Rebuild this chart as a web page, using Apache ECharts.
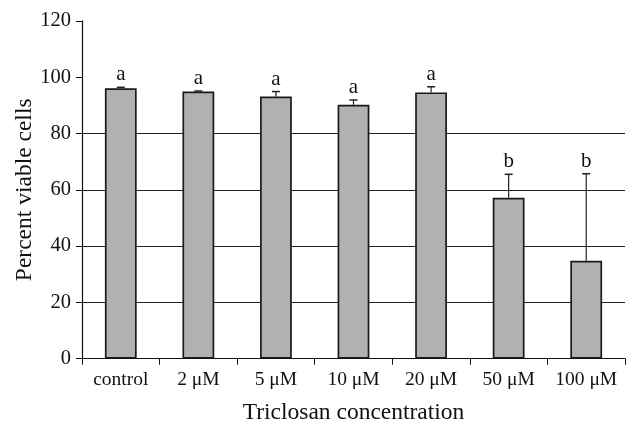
<!DOCTYPE html>
<html><head><meta charset="utf-8">
<script src="https://cdn.jsdelivr.net/npm/echarts@6/dist/echarts.min.js"></script>
<style>html,body{margin:0;padding:0;background:#fff}#c{width:627px;height:422px}</style>
</head><body><div id="c"></div>
<script>
const categories = ['control', '2 μM', '5 μM', '10 μM', '20 μM', '50 μM', '100 μM'];
const means = [96.1, 94.9, 93.1, 90.2, 94.6, 57.2, 34.8];
const errTops = [96.4, 95.1, 94.9, 91.9, 96.6, 65.5, 65.7];
const groups = ['a', 'a', 'a', 'a', 'a', 'b', 'b'];
const yTicks = [0, 20, 40, 60, 80, 100, 120];

const FONT = '"Liberation Serif", "DejaVu Serif", serif';
const chart = echarts.init(document.getElementById('c'), null, {renderer: 'canvas'});
chart.setOption({
  animation: false,
  backgroundColor: '#fff',
  grid: {left: 82, right: 2, top: 20.9, bottom: 63.3, containLabel: false, outerBoundsMode: 'none'},
  xAxis: {
    type: 'category', data: categories,
    name: 'Triclosan concentration', nameLocation: 'middle', nameGap: 42, nameMoveOverlap: false,
    nameTextStyle: {fontFamily: FONT, fontSize: 23.5, color: '#111'},
    axisLine: {lineStyle: {color: '#111', width: 1.2}},
    axisTick: {show: true, alignWithLabel: false, length: 6, lineStyle: {color: '#111'}},
    axisLabel: {interval: 0, hideOverlap: false, fontFamily: FONT, fontSize: 19.5, color: '#111', margin: 11}
  },
  yAxis: {
    type: 'value', min: yTicks[0], max: yTicks[yTicks.length - 1], interval: 20,
    name: 'Percent viable cells', nameLocation: 'middle', nameGap: 45, nameMoveOverlap: false,
    nameTextStyle: {fontFamily: FONT, fontSize: 23.5, color: '#111'},
    axisLine: {show: true, lineStyle: {color: '#111', width: 1.2}},
    axisTick: {show: true, length: 6, lineStyle: {color: '#111'}},
    axisLabel: {fontFamily: FONT, fontSize: 20.5, color: '#111', margin: 11},
    splitLine: {show: true, lineStyle: {color: ['#111', '#222', '#222', '#222', '#222', 'rgba(0,0,0,0)', 'rgba(0,0,0,0)'], width: 1}}
  },
  series: [
    {
      type: 'bar', data: means, barWidth: '41%', z: 3,
      itemStyle: {color: '#b1b1b4', borderColor: '#1a1a1a', borderWidth: 1.7}
    },
    {
      type: 'custom', z: 4,
      data: categories.map((c, i) => [i, means[i], errTops[i], groups[i]]),
      renderItem: function (params, api) {
        const x = api.coord([api.value(0), 0])[0];
        const yb = api.coord([0, api.value(1)])[1];
        const yt = api.coord([0, api.value(2)])[1];
        const g = groups[params.dataIndex];
        return {
          type: 'group',
          children: [
            {type: 'line', shape: {x1: x, y1: yb, x2: x, y2: yt}, style: {stroke: '#222', lineWidth: 1.2}},
            {type: 'line', shape: {x1: x - 4, y1: yt, x2: x + 4, y2: yt}, style: {stroke: '#222', lineWidth: 1.5}},
            {type: 'text', x: x, y: yt - 2, style: {text: g, fill: '#111', font: '21px ' + FONT, textAlign: 'center', textVerticalAlign: 'bottom'}}
          ]
        };
      }
    }
  ]
});
</script></body></html>
